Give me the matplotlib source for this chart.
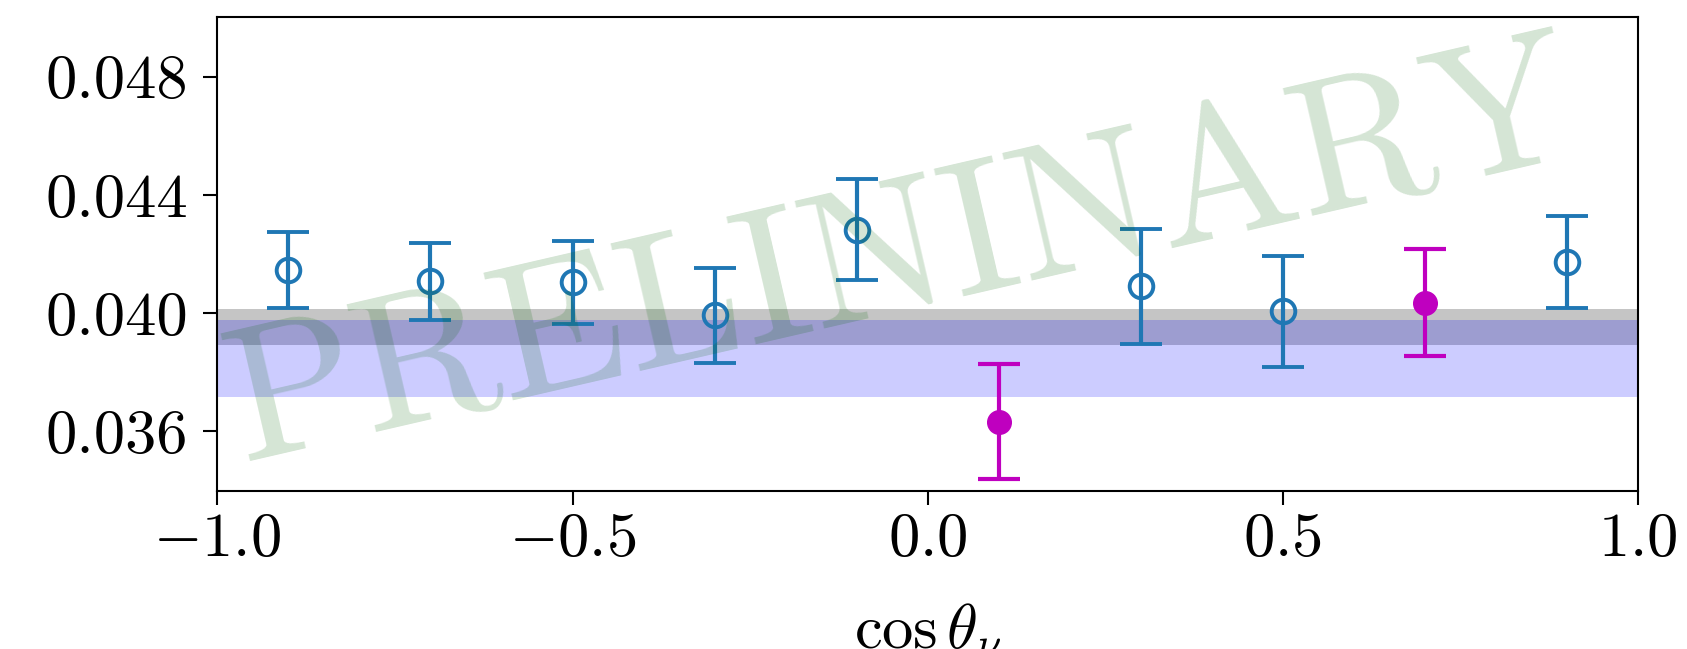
import numpy as np
import matplotlib
matplotlib.use("Agg")
from matplotlib import pyplot as plt

# LaTeX-like look
plt.rcParams['font.family'] = 'serif'
plt.rcParams['font.serif'] = ['cmr10']
plt.rcParams['mathtext.fontset'] = 'cm'
plt.rcParams['axes.formatter.use_mathtext'] = True

# Blue open points
x_open = [-0.9, -0.7, -0.5, -0.3, -0.1, 0.3, 0.5, 0.9]
y_open = [0.04146, 0.04107, 0.04104, 0.03992, 0.04282, 0.04090, 0.04006, 0.04172]
e_open = [0.00129, 0.00131, 0.00140, 0.00161, 0.00170, 0.00196, 0.00187, 0.00156]

# Magenta filled points
x_fill = [0.1, 0.7]
y_fill = [0.03633, 0.04035]
e_fill = [0.00194, 0.00181]

# Horizontal bands (low, high)
gray_band = (0.03892, 0.04015)
blue_band = (0.03717, 0.03978)

fig = plt.figure(figsize=(16.87, 6.49), dpi=100)
ax = fig.add_axes([0.1289, 0.2442, 0.8419, 0.7290])

ax.axhspan(gray_band[0], gray_band[1], color='gray', alpha=0.45, lw=0)
ax.axhspan(blue_band[0], blue_band[1], color='blue', alpha=0.2, lw=0)

ax.errorbar(x_open, y_open, yerr=e_open, fmt='o', color='#1f77b4',
            mfc='none', mew=2.8, ms=17, elinewidth=3, capsize=15, capthick=3)
ax.errorbar(x_fill, y_fill, yerr=e_fill, fmt='o', color='m',
            ms=17, elinewidth=3, capsize=15, capthick=3)

ax.set_xlim(-1.0, 1.0)
ax.set_ylim(0.034, 0.050)
ax.set_xticks([-1.0, -0.5, 0.0, 0.5, 1.0])
ax.set_yticks([0.036, 0.040, 0.044, 0.048])
ax.set_yticklabels(['0.036', '0.040', '0.044', '0.048'])
ax.tick_params(labelsize=45, length=10, width=1.5, pad=6)
ax.tick_params(axis='y', pad=11)
for s in ax.spines.values():
    s.set_linewidth(1.5)
ax.set_xlabel(r'$\cos\theta_\nu$', fontsize=45, labelpad=24)

# watermark
fig.text(0.535, 0.60, 'PRELININARY', fontsize=138, color='#006400', alpha=0.17,
         rotation=13, ha='center', va='center', rotation_mode='anchor',
         family='serif')

fig.savefig('out.png', dpi=100)
